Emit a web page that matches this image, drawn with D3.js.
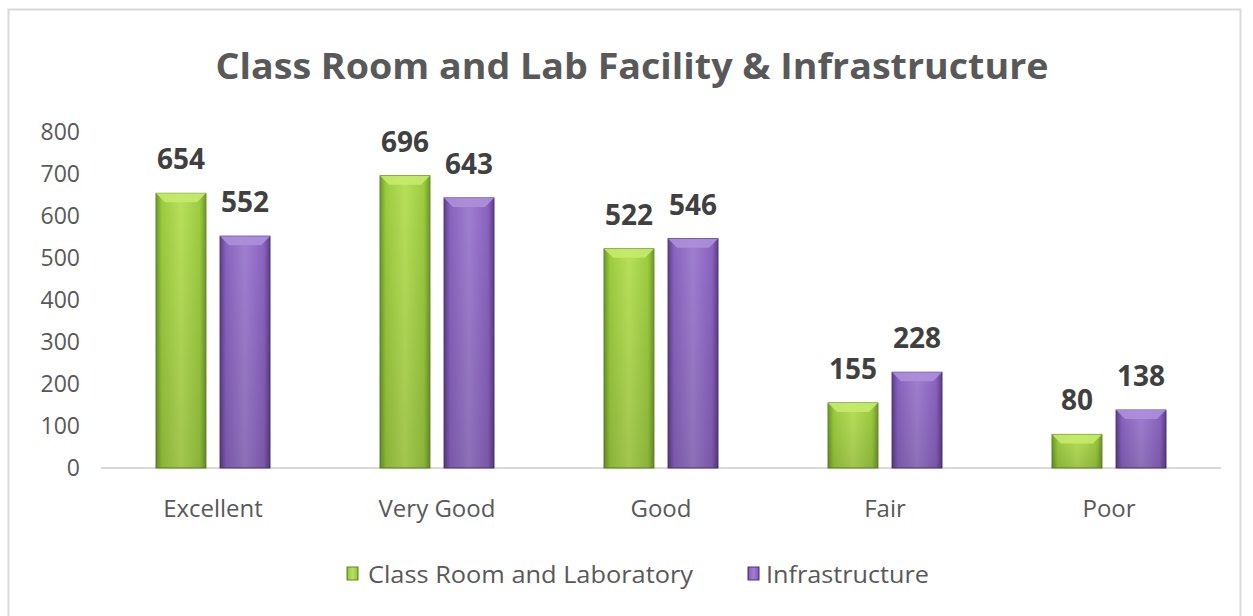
<!DOCTYPE html>
<html>
<head>
<meta charset="utf-8">
<script src="https://cdn.jsdelivr.net/npm/d3@7"></script>
<style>
  body { margin: 0; background: #fff; }
  svg { display: block; }
</style>
</head>
<body>
<svg id="chart"></svg>
<script>
// data
var categories = ["Excellent", "Very Good", "Good", "Fair", "Poor"];
var seriesNames = ["Class Room and Laboratory", "Infrastructure"];
var classRoom = [654, 696, 522, 155, 80];
var infrastructure = [552, 643, 546, 228, 138];
var yTicks = [0, 100, 200, 300, 400, 500, 600, 700, 800];

var W = 1253, H = 616;
var margin = {top: 132, right: 32, bottom: 148, left: 101},
  width = W - margin.left - margin.right,
  height = H - margin.top - margin.bottom;

var svg = d3.select("#chart")
  .attr("width", W)
  .attr("height", H);

// chart frame
svg.append("rect")
  .attr("x", 8.5).attr("y", 9.5)
  .attr("width", 1232).attr("height", 640)
  .attr("fill", "#fff")
  .attr("stroke", "#d9d9d9")
  .attr("stroke-width", 2);

var defs = svg.append("defs");
var palettes = [
  {id: "g0", edge: "#6f9a2a", mid: "#9ccc40", light: "#b8e05a", top: "#c6ea6c", dark: "#5f8a20"},
  {id: "g1", edge: "#5d3f8c", mid: "#8a63bf", light: "#a07fd0", top: "#ad8fda", dark: "#4f3378"}
];
palettes.forEach(function(p) {
  var g = defs.append("linearGradient").attr("id", p.id)
    .attr("x1", "0").attr("x2", "1").attr("y1", "0").attr("y2", "0");
  g.append("stop").attr("offset", "0").attr("stop-color", p.edge);
  g.append("stop").attr("offset", "0.12").attr("stop-color", p.mid);
  g.append("stop").attr("offset", "0.5").attr("stop-color", p.light);
  g.append("stop").attr("offset", "0.88").attr("stop-color", p.mid);
  g.append("stop").attr("offset", "1").attr("stop-color", p.edge);
  var v = defs.append("linearGradient").attr("id", p.id + "b")
    .attr("x1", "0").attr("x2", "0").attr("y1", "0").attr("y2", "1");
  v.append("stop").attr("offset", "0").attr("stop-color", "#000").attr("stop-opacity", 0);
  v.append("stop").attr("offset", "1").attr("stop-color", "#000").attr("stop-opacity", 0.12);
});

var g = svg.append("g")
  .attr("transform", "translate(" + margin.left + "," + margin.top + ")");

var x0 = d3.scaleBand().domain(categories).range([0, width]).padding(0);
var x1 = d3.scaleBand().domain(seriesNames).range([0, 114]).paddingInner(0.22);
var y = d3.scaleLinear().domain([0, 800]).range([height, 0]);

// title
svg.append("text")
  .attr("x", 632).attr("y", 79)
  .attr("text-anchor", "middle")
  .attr("font-family", "Open Sans, sans-serif")
  .attr("font-weight", "bold")
  .attr("font-size", 36)
  .attr("textLength", 833)
  .attr("lengthAdjust", "spacingAndGlyphs")
  .attr("fill", "#595959")
  .text("Class Room and Lab Facility & Infrastructure");

// y axis labels
g.selectAll(".ytick")
  .data(yTicks)
  .enter().append("text")
  .attr("x", -21)
  .attr("y", function(d) { return y(d) + 8; })
  .attr("text-anchor", "end")
  .attr("font-family", "Open Sans, sans-serif")
  .attr("font-size", 23)
  .attr("fill", "#595959")
  .text(function(d) { return d; });

// baseline
g.append("line")
  .attr("x1", 0).attr("x2", width)
  .attr("y1", y(0)).attr("y2", y(0))
  .attr("stroke", "#d9d9d9")
  .attr("stroke-width", 2);

// x labels
g.selectAll(".xlab")
  .data(categories)
  .enter().append("text")
  .attr("x", function(d) { return x0(d) + x0.bandwidth() / 2; })
  .attr("y", height + 49)
  .attr("text-anchor", "middle")
  .attr("font-family", "Open Sans, sans-serif")
  .attr("font-size", 24)
  .attr("fill", "#595959")
  .text(function(d) { return d; });

var series = [classRoom, infrastructure];
var offset = (x0.bandwidth() - 114) / 2;

series.forEach(function(vals, si) {
  var p = palettes[si];
  var grp = g.append("g");
  var bars = grp.selectAll("g.bar")
    .data(vals)
    .enter().append("g")
    .attr("transform", function(d, i) {
      return "translate(" + (x0(categories[i]) + offset + x1(seriesNames[si])) + ",0)";
    });
  var bw = x1.bandwidth();
  bars.append("rect")
    .attr("x", 0)
    .attr("y", function(d) { return y(d); })
    .attr("width", bw)
    .attr("height", function(d) { return y(0) - y(d); })
    .attr("fill", "url(#" + p.id + ")")
    .attr("stroke", p.dark)
    .attr("stroke-width", 1);
  bars.append("rect")
    .attr("x", 0)
    .attr("y", function(d) { return y(d); })
    .attr("width", bw)
    .attr("height", function(d) { return y(0) - y(d); })
    .attr("fill", "url(#" + p.id + "b)");
  // bevel top
  bars.append("path")
    .attr("d", function(d) {
      var t = y(d), b = 9;
      return "M0," + t + "L" + bw + "," + t + "L" + (bw - b) + "," + (t + b) +
        "L" + b + "," + (t + b) + "Z";
    })
    .attr("fill", p.top)
    .attr("opacity", 0.9);
  // value labels
  bars.append("text")
    .attr("x", bw / 2)
    .attr("y", function(d) { return y(d) - 24; })
    .attr("text-anchor", "middle")
    .attr("font-family", "Open Sans, sans-serif")
    .attr("font-weight", "bold")
    .attr("font-size", 28)
    .attr("fill", "#404040")
    .text(function(d) { return d; });
});

// legend
var legendX = [347, 748];
var legendW = [325, 163];
seriesNames.forEach(function(name, i) {
  var p = palettes[i];
  var lg = svg.append("g").attr("transform", "translate(" + legendX[i] + ",567)");
  lg.append("rect")
    .attr("width", 11).attr("height", 13)
    .attr("fill", "url(#" + p.id + ")")
    .attr("stroke", p.dark);
  lg.append("text")
    .attr("x", i === 0 ? 21 : 18).attr("y", 16)
    .attr("font-family", "Open Sans, sans-serif")
    .attr("font-size", 24)
    .attr("textLength", legendW[i])
    .attr("lengthAdjust", "spacingAndGlyphs")
    .attr("fill", "#595959")
    .text(name);
});
</script>
</body>
</html>
